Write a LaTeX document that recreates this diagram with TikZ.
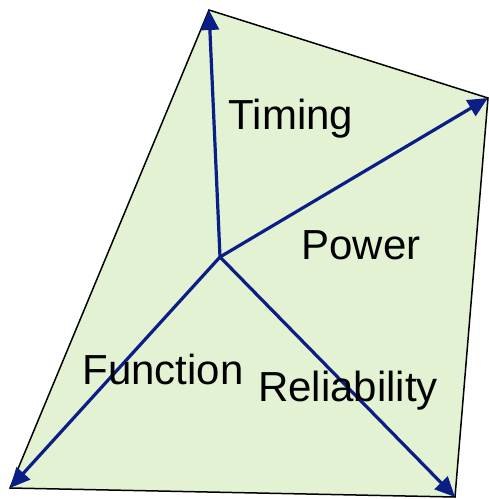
\documentclass[tikz,border=0pt]{standalone}
\usepackage{fontspec}
\setmainfont{Liberation Sans}
\usetikzlibrary{arrows.meta}
\definecolor{fillg}{HTML}{E2F2D3}
\definecolor{navy}{HTML}{0A1E85}
\begin{document}
\begin{tikzpicture}[x=1pt,y=-1pt,
  edge/.style={draw=black,line width=1.5pt},
  spoke/.style={draw=navy,line width=3.2pt,-{Triangle[length=20pt,width=18pt]}},
  lbl/.style={font=\fontsize{42}{42}\selectfont,text=black,inner sep=0pt}]
\useasboundingbox (0,0) rectangle (489,499);
\coordinate (t) at (209,10);
\coordinate (r) at (488,98);
\coordinate (br) at (455,497);
\coordinate (bl) at (10,488);
\coordinate (c) at (220,257);
\filldraw[fill=fillg,edge] (t) -- (r) -- (br) -- (bl) -- cycle;
\draw[spoke] (c) -- (t);
\draw[spoke] (c) -- (r);
\draw[spoke] (c) -- (br);
\draw[spoke] (c) -- (bl);
\node[lbl] (timing) at (291,119) {Timing};
\node[lbl] (power) at (361,245) {Power};
\node[lbl] (function) at (163,369) {Function};
\node[lbl] (rel) at (348,391) {Reliability};
\end{tikzpicture}
\end{document}
